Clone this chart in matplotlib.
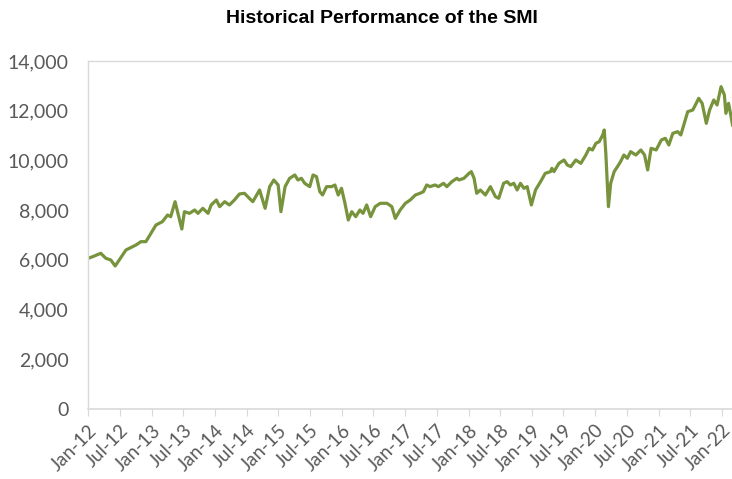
import matplotlib
matplotlib.use("Agg")
import matplotlib.pyplot as plt
import pandas as pd

dates = ["2012-01-01","2012-01-26","2012-03-13","2012-04-11","2012-05-10","2012-06-04","2012-06-27",
 "2012-08-05","2012-10-02","2012-10-30","2012-11-28","2012-12-27","2013-01-25","2013-03-03",
 "2013-04-02","2013-04-20","2013-05-15","2013-06-08","2013-06-23","2013-07-08","2013-08-06",
 "2013-09-05","2013-09-24","2013-10-22","2013-11-21","2013-12-09","2014-01-08","2014-01-27",
 "2014-02-25","2014-03-24","2014-04-22","2014-05-21","2014-06-19","2014-07-17","2014-08-06",
 "2014-09-14","2014-10-16","2014-11-11","2014-12-05","2014-12-30","2015-01-15","2015-02-08",
 "2015-03-06","2015-04-05","2015-04-23","2015-05-13","2015-06-01","2015-06-30","2015-07-19",
 "2015-08-08","2015-08-27","2015-09-12","2015-10-05","2015-11-03","2015-11-22","2015-12-11",
 "2015-12-30","2016-01-19","2016-02-07","2016-02-27","2016-03-21","2016-04-14","2016-05-02",
 "2016-05-23","2016-06-15","2016-07-11","2016-08-09","2016-09-17","2016-10-15","2016-11-04",
 "2016-12-02","2017-01-01","2017-01-29","2017-02-28","2017-03-26","2017-04-15","2017-05-04",
 "2017-05-23","2017-06-21","2017-07-10","2017-08-09","2017-08-28","2017-09-26","2017-10-25",
 "2017-11-06","2017-12-04","2018-01-03","2018-01-16","2018-02-01","2018-02-16","2018-03-09",
 "2018-04-07","2018-05-06","2018-06-04","2018-06-23","2018-07-21","2018-08-10","2018-08-29",
 "2018-09-18","2018-10-07","2018-10-26","2018-11-15","2018-12-04","2018-12-28","2019-01-21",
 "2019-02-19","2019-03-18","2019-04-17","2019-04-25","2019-05-07","2019-06-05","2019-07-04",
 "2019-07-23","2019-08-12","2019-09-10","2019-10-09","2019-11-07","2019-11-26","2019-12-15",
 "2020-01-04","2020-01-23","2020-02-12","2020-02-21","2020-03-01","2020-03-16","2020-03-29",
 "2020-04-18","2020-05-07","2020-05-25","2020-06-13","2020-07-03","2020-07-22","2020-08-21",
 "2020-09-19","2020-10-10","2020-10-28","2020-11-17","2020-12-16","2021-01-15","2021-02-07",
 "2021-02-27","2021-03-22","2021-04-19","2021-05-07","2021-05-27","2021-06-16","2021-07-15",
 "2021-08-04","2021-08-18","2021-09-07","2021-10-01","2021-10-20","2021-11-13","2021-12-02",
 "2021-12-25","2022-01-13","2022-01-22","2022-02-06","2022-02-21","2022-03-01"]

smi = [6063,6127,6264,6063,5994,5753,5994,
 6397,6598,6732,6732,7067,7402,7536,
 7805,7737,8340,7670,7240,7938,7871,
 8006,7871,8073,7871,8207,8408,8140,
 8340,8207,8408,8650,8677,8476,8340,
 8811,8073,8945,9213,9012,7938,8945,
 9280,9414,9213,9280,9079,8945,9414,
 9347,8744,8610,8945,8945,9012,8610,
 8878,8275,7603,7938,7737,8006,7871,
 8207,7737,8140,8275,8275,8140,7670,
 8006,8275,8408,8610,8677,8744,9012,
 8945,9012,8945,9079,8945,9146,9280,
 9213,9280,9481,9548,9280,8677,8811,
 8610,8945,8543,8476,9079,9146,9012,
 9079,8811,9079,8878,8945,8207,8811,
 9146,9481,9548,9682,9548,9883,10017,
 9816,9749,10017,9883,10218,10487,10420,
 10689,10755,11023,11224,10286,8140,9079,
 9548,9749,9950,10218,10085,10353,10218,
 10420,10218,9615,10487,10420,10822,10889,
 10621,11090,11157,11023,11492,11961,12028,
 12297,12498,12297,11492,12028,12431,12230,
 12966,12632,11894,12297,11760,11425]

tick_dates = pd.date_range("2012-01-01", "2022-01-01", freq="6MS")
tick_labels = [d.strftime("%b-%y") for d in tick_dates]
y_ticks = [0, 2000, 4000, 6000, 8000, 10000, 12000, 14000]

x = pd.to_datetime(dates)

fig = plt.figure(figsize=(7.32, 4.79), dpi=100)
ax = fig.add_axes([0.1206, 0.1461, 0.8794, 0.7266])
ax.plot(x, smi, color="#77933C", linewidth=2.3, solid_joinstyle="round")

ax.set_xlim(pd.Timestamp("2012-01-01"), pd.Timestamp("2022-02-26"))
ax.set_ylim(0, 14000)
ax.set_yticks(y_ticks)
ax.set_yticklabels([f"{v:,}" for v in y_ticks])
ax.set_xticks(tick_dates)
ax.set_xticklabels(tick_labels, rotation=45, ha="right", rotation_mode="anchor")

for lab in ax.get_yticklabels() + ax.get_xticklabels():
    lab.set_fontfamily("Lato")
    lab.set_color("#595959")
for lab in ax.get_yticklabels():
    lab.set_fontsize(14)
for lab in ax.get_xticklabels():
    lab.set_fontsize(13.5)

for s in ["top", "left"]:
    ax.spines[s].set_color("#D9D9D9")
    ax.spines[s].set_linewidth(1.0)
ax.spines["right"].set_visible(False)
ax.spines["bottom"].set_color("#D9D9D9")
ax.spines["bottom"].set_linewidth(1.2)
ax.tick_params(axis="y", length=0, pad=14)
ax.tick_params(axis="x", length=5, color="#D9D9D9", pad=4)

fig.text(0.522, 0.962, "Historical Performance of the SMI", ha="center", va="center",
         fontsize=14, fontweight="bold", fontfamily="Liberation Sans", color="black")

fig.savefig("out.png", dpi=100)
